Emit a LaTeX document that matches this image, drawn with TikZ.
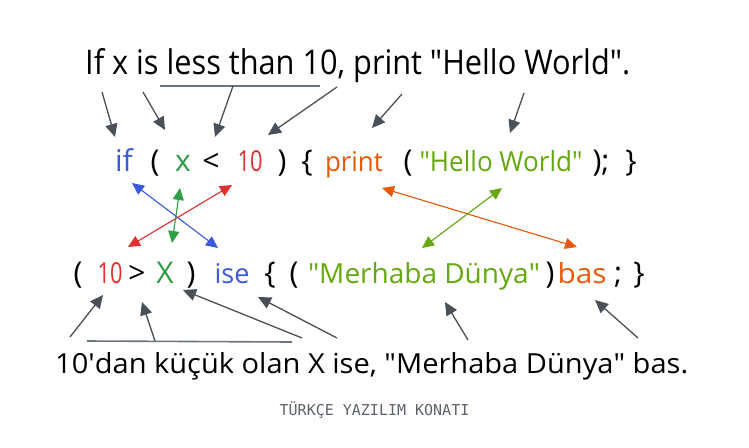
\documentclass[tikz,border=0pt]{standalone}
\usepackage{fontspec}
\setmainfont{Open Sans}
\newfontfamily\footfont{DejaVu Sans Mono}
\usetikzlibrary{arrows.meta}
\definecolor{cblue}{HTML}{3B5BDB}
\definecolor{cgreen}{HTML}{2F9E44}
\definecolor{cred}{HTML}{E03131}
\definecolor{corange}{HTML}{E8590C}
\definecolor{colive}{HTML}{66A80F}
\definecolor{cgray}{HTML}{495057}
\definecolor{cline}{HTML}{6C757D}
\definecolor{cfoot}{HTML}{5C636A}
\newcommand{\qd}{\textquotedbl}
\newcommand{\fitto}[3]{\resizebox{#1}{#2}{#3}}
\tikzset{
  tok/.style={anchor=base, inner sep=0pt, font=\fontsize{30}{34}\selectfont},
  sentence/.style={anchor=base west, inner sep=0pt, font=\fontsize{26}{30}\selectfont},
  grayarrow/.style={draw=cgray, line width=1.3pt, -{Triangle[length=13pt,width=12pt]}},
  uline/.style={draw=cline, line width=1.6pt},
  duo/.style={line width=1.1pt, {Triangle[length=12pt,width=11pt]}-{Triangle[length=12pt,width=11pt]}},
}
\begin{document}
\begin{tikzpicture}[x=1pt,y=-1pt]
\useasboundingbox (0,0) rectangle (749,447);
\fill[white] (0,0) rectangle (749,447);

% sentences
\node[sentence] (en) at (85,74) {\fitto{545pt}{26pt}{If x is less than 10, print \qd Hello World\qd.}};
\node[sentence] (tr) at (55,373) {\fitto{633pt}{21pt}{10\textquotesingle dan küçük olan X ise, \qd Merhaba Dünya\qd{} bas.}};
\node[anchor=center, inner sep=0pt, text=cfoot, font=\footfont\fontsize{15}{18}\selectfont] (foot) at (374.5,410) {TÜRKÇE YAZILIM KONATI};

% code line 1
\node[tok, text=cblue]   (if)  at (124,171) {if};
\node[tok]               (p1)  at (155,171) {(};
\node[tok, text=cgreen]  (x1)  at (183,171) {x};
\node[tok]               (lt)  at (211,171) {<};
\node[tok, text=cred]    (n1)  at (250,171) {\fitto{25pt}{21pt}{10}};
\node[tok]               (p2)  at (282,171) {)};
\node[tok]               (b1)  at (307,171) {\{};
\node[tok, text=corange] (pr)  at (354,171) {\fitto{58pt}{20pt}{print}};
\node[tok]               (p3)  at (408,171) {(};
\node[tok, text=colive]  (hw)  at (501,171) {\fitto{163pt}{21pt}{\qd Hello World\qd}};
\node[tok]               (p4)  at (601,171) {);};
\node[tok]               (b2)  at (631,171) {\}};

% code line 2
\node[tok]               (q1)  at (78,283)  {(};
\node[tok, text=cred]    (n2)  at (110,283) {\fitto{25pt}{21pt}{10}};
\node[tok]               (gt)  at (137,283) {>};
\node[tok, text=cgreen]  (x2)  at (165,283) {X};
\node[tok]               (q2)  at (191,283) {)};
\node[tok, text=cblue]   (ise) at (232,283) {\fitto{35pt}{20pt}{ise}};
\node[tok]               (c1)  at (270,283) {\{};
\node[tok]               (q3)  at (294,283) {(};
\node[tok, text=colive]  (md)  at (424,283) {\fitto{232pt}{21pt}{\qd Merhaba Dünya\qd}};
\node[tok]               (q4)  at (550,283) {)};
\node[tok, text=corange] (bas) at (582,283) {\fitto{49pt}{21pt}{bas}};
\node[tok]               (sc)  at (618,283) {;};
\node[tok]               (c2)  at (639,283) {\}};

% coordinates for top arrows
\coordinate (t1s) at (102,92);  \coordinate (t1e) at (115,137);
\coordinate (t2s) at (143,92);  \coordinate (t2e) at (165,130);
\coordinate (ul1a) at (160,86); \coordinate (ul1b) at (320,86);
\coordinate (t3s) at (233,86);  \coordinate (t3e) at (215,137);
\coordinate (t4s) at (337,87);  \coordinate (t4e) at (268,135);
\coordinate (t5s) at (402,94);  \coordinate (t5e) at (372,128);
\coordinate (t6s) at (524,93);  \coordinate (t6e) at (510,133);

\draw[uline] (ul1a) -- (ul1b);
\draw[grayarrow] (t1s) -- (t1e);
\draw[grayarrow] (t2s) -- (t2e);
\draw[grayarrow] (t3s) -- (t3e);
\draw[grayarrow] (t4s) -- (t4e);
\draw[grayarrow] (t5s) -- (t5e);
\draw[grayarrow] (t6s) -- (t6e);

% coordinates for bottom arrows
\coordinate (u1s) at (70,337);  \coordinate (u1e) at (103,295);
\coordinate (ul2a) at (87,341); \coordinate (ul2b) at (292,342);
\coordinate (u2s) at (155,341); \coordinate (u2e) at (142,302);
\coordinate (u3s) at (302,338); \coordinate (u3e) at (183,290);
\coordinate (u4s) at (337,338); \coordinate (u4e) at (258,297);
\coordinate (u5s) at (468,340); \coordinate (u5e) at (445,302);
\coordinate (u6s) at (638,338); \coordinate (u6e) at (595,300);

\draw[uline] (ul2a) -- (ul2b);
\draw[grayarrow] (u1s) -- (u1e);
\draw[grayarrow] (u2s) -- (u2e);
\draw[grayarrow] (u3s) -- (u3e);
\draw[grayarrow] (u4s) -- (u4e);
\draw[grayarrow] (u5s) -- (u5e);
\draw[grayarrow] (u6s) -- (u6e);

% colored double arrows
\coordinate (bA) at (132,183); \coordinate (bB) at (218,248);
\coordinate (rA) at (232,185); \coordinate (rB) at (128,247);
\coordinate (gA) at (180,188); \coordinate (gB) at (172,243);
\coordinate (oA) at (382,188); \coordinate (oB) at (577,247);
\coordinate (lA) at (502,188); \coordinate (lB) at (422,248);
\draw[duo, draw=cblue, fill=cblue] (bA) -- (bB);
\draw[duo, draw=cred, fill=cred] (rA) -- (rB);
\draw[duo, draw=cgreen, fill=cgreen] (gA) -- (gB);
\draw[duo, draw=corange, fill=corange] (oA) -- (oB);
\draw[duo, draw=colive, fill=colive] (lA) -- (lB);
\end{tikzpicture}
\end{document}
